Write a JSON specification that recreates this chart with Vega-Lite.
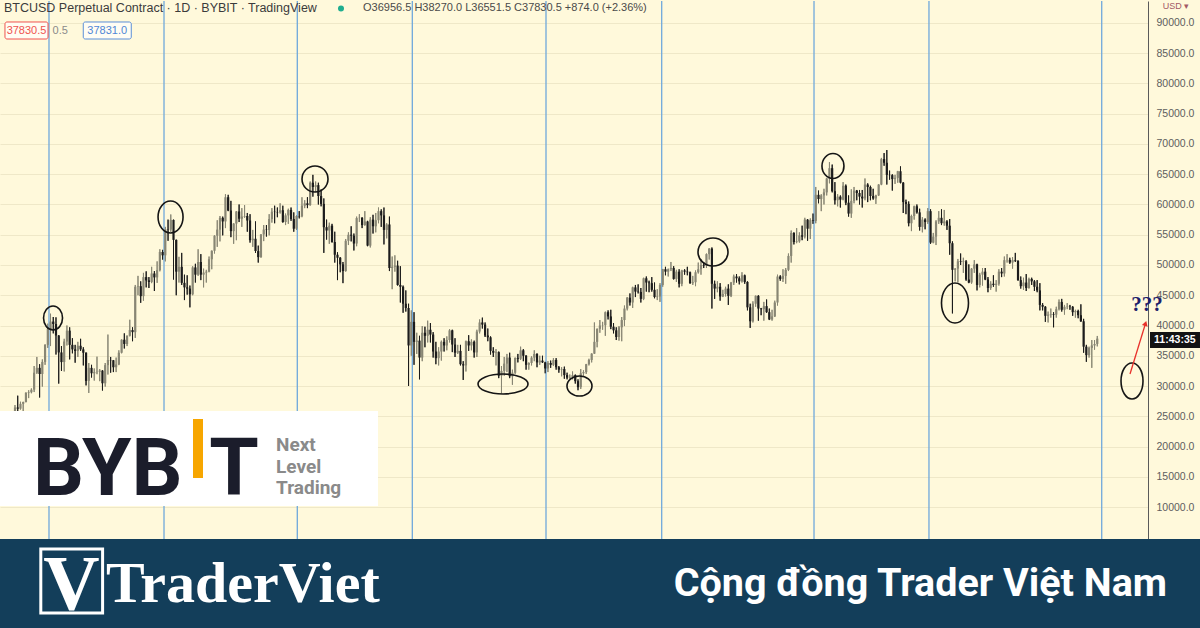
{
"$schema": "https://vega.github.io/schema/vega-lite/v6.json",
"background": "#fff9db",
"padding": 0,
"spacing": 0,
"bounds": "flush",
"config": {"view": {"stroke": null}, "font": "Liberation Sans"},
"datasets": {
"btc": [
{"d":"2020-12-22","o":22800,"h":23850,"l":22350,"c":23820},
{"d":"2020-12-23","o":23820,"h":24100,"l":22700,"c":23250},
{"d":"2020-12-24","o":23250,"h":23800,"l":22750,"c":23720},
{"d":"2020-12-25","o":23720,"h":24750,"l":23450,"c":24700},
{"d":"2020-12-26","o":24700,"h":26850,"l":24500,"c":26450},
{"d":"2020-12-27","o":26450,"h":28400,"l":25850,"c":26250},
{"d":"2020-12-28","o":26250,"h":27400,"l":26100,"c":27050},
{"d":"2020-12-29","o":27050,"h":27400,"l":25800,"c":27350},
{"d":"2020-12-30","o":27350,"h":28950,"l":27300,"c":28880},
{"d":"2020-12-31","o":28880,"h":29300,"l":28000,"c":28980},
{"d":"2021-01-01","o":28980,"h":29600,"l":28800,"c":29400},
{"d":"2021-01-02","o":29400,"h":33300,"l":29000,"c":32200},
{"d":"2021-01-03","o":32200,"h":34800,"l":32000,"c":33000},
{"d":"2021-01-04","o":33000,"h":33600,"l":28100,"c":31980},
{"d":"2021-01-05","o":31980,"h":34400,"l":29900,"c":33980},
{"d":"2021-01-06","o":33980,"h":36900,"l":33500,"c":36800},
{"d":"2021-01-07","o":36800,"h":40300,"l":36300,"c":39400},
{"d":"2021-01-08","o":39400,"h":41950,"l":36600,"c":40650},
{"d":"2021-01-09","o":40650,"h":41400,"l":38700,"c":40250},
{"d":"2021-01-10","o":40250,"h":41350,"l":35200,"c":38350},
{"d":"2021-01-11","o":38350,"h":38400,"l":30400,"c":35550},
{"d":"2021-01-12","o":35550,"h":36600,"l":32500,"c":33950},
{"d":"2021-01-13","o":33950,"h":37800,"l":32400,"c":37350},
{"d":"2021-01-14","o":37350,"h":40000,"l":36700,"c":39150},
{"d":"2021-01-15","o":39150,"h":39700,"l":34400,"c":36800},
{"d":"2021-01-16","o":36800,"h":37900,"l":35400,"c":36050},
{"d":"2021-01-17","o":36050,"h":36800,"l":33850,"c":35800},
{"d":"2021-01-18","o":35800,"h":37300,"l":34800,"c":36650},
{"d":"2021-01-19","o":36650,"h":37800,"l":35800,"c":36050},
{"d":"2021-01-20","o":36050,"h":36400,"l":33400,"c":35500},
{"d":"2021-01-21","o":35500,"h":35550,"l":30100,"c":30850},
{"d":"2021-01-22","o":30850,"h":33800,"l":28850,"c":33000},
{"d":"2021-01-23","o":33000,"h":33500,"l":31400,"c":32100},
{"d":"2021-01-24","o":32100,"h":32900,"l":30900,"c":32300},
{"d":"2021-01-25","o":32300,"h":34850,"l":31950,"c":32350},
{"d":"2021-01-26","o":32350,"h":32800,"l":30800,"c":32550},
{"d":"2021-01-27","o":32550,"h":32600,"l":29250,"c":30450},
{"d":"2021-01-28","o":30450,"h":33800,"l":29900,"c":33450},
{"d":"2021-01-29","o":33450,"h":38500,"l":31900,"c":34300},
{"d":"2021-01-30","o":34300,"h":34800,"l":32200,"c":34250},
{"d":"2021-01-31","o":34250,"h":34300,"l":32300,"c":33100},
{"d":"2021-02-01","o":33100,"h":34700,"l":32300,"c":33550},
{"d":"2021-02-02","o":33550,"h":35900,"l":33450,"c":35500},
{"d":"2021-02-03","o":35500,"h":37700,"l":35400,"c":37650},
{"d":"2021-02-04","o":37650,"h":38700,"l":36200,"c":36950},
{"d":"2021-02-05","o":36950,"h":38350,"l":36600,"c":38300},
{"d":"2021-02-06","o":38300,"h":40950,"l":38200,"c":39250},
{"d":"2021-02-07","o":39250,"h":39700,"l":37400,"c":38900},
{"d":"2021-02-08","o":38900,"h":46700,"l":37950,"c":46400},
{"d":"2021-02-09","o":46400,"h":48200,"l":45000,"c":46500},
{"d":"2021-02-10","o":46500,"h":47300,"l":43750,"c":44850},
{"d":"2021-02-11","o":44850,"h":48700,"l":44100,"c":48000},
{"d":"2021-02-12","o":48000,"h":48950,"l":46300,"c":47450},
{"d":"2021-02-13","o":47450,"h":48000,"l":46200,"c":47200},
{"d":"2021-02-14","o":47200,"h":49700,"l":47000,"c":48600},
{"d":"2021-02-15","o":48600,"h":49000,"l":45700,"c":47950},
{"d":"2021-02-16","o":47950,"h":50600,"l":47050,"c":49150},
{"d":"2021-02-17","o":49150,"h":52600,"l":48950,"c":52150},
{"d":"2021-02-18","o":52150,"h":52500,"l":50900,"c":51600},
{"d":"2021-02-19","o":51600,"h":56300,"l":50600,"c":55900},
{"d":"2021-02-20","o":55900,"h":57500,"l":54000,"c":55850},
{"d":"2021-02-21","o":55850,"h":58350,"l":55500,"c":57450},
{"d":"2021-02-22","o":57450,"h":57500,"l":47600,"c":54150},
{"d":"2021-02-23","o":54150,"h":54200,"l":45000,"c":48900},
{"d":"2021-02-24","o":48900,"h":51350,"l":47100,"c":49700},
{"d":"2021-02-25","o":49700,"h":52000,"l":46700,"c":47050},
{"d":"2021-02-26","o":47050,"h":48400,"l":44200,"c":46300},
{"d":"2021-02-27","o":46300,"h":48300,"l":45100,"c":46100},
{"d":"2021-02-28","o":46100,"h":46600,"l":43000,"c":45150},
{"d":"2021-03-01","o":45150,"h":49800,"l":45000,"c":49600},
{"d":"2021-03-02","o":49600,"h":50200,"l":47100,"c":48400},
{"d":"2021-03-03","o":48400,"h":52600,"l":48200,"c":50500},
{"d":"2021-03-04","o":50500,"h":51800,"l":47500,"c":48400},
{"d":"2021-03-05","o":48400,"h":49400,"l":46300,"c":48750},
{"d":"2021-03-06","o":48750,"h":49200,"l":47100,"c":48900},
{"d":"2021-03-07","o":48900,"h":51400,"l":48800,"c":50950},
{"d":"2021-03-08","o":50950,"h":52400,"l":49300,"c":52350},
{"d":"2021-03-09","o":52350,"h":54900,"l":51900,"c":54850},
{"d":"2021-03-10","o":54850,"h":57400,"l":53000,"c":55850},
{"d":"2021-03-11","o":55850,"h":58100,"l":53900,"c":57800},
{"d":"2021-03-12","o":57800,"h":58000,"l":54900,"c":57200},
{"d":"2021-03-13","o":57200,"h":61700,"l":56100,"c":61200},
{"d":"2021-03-14","o":61200,"h":61600,"l":58900,"c":59000},
{"d":"2021-03-15","o":59000,"h":60600,"l":54600,"c":55600},
{"d":"2021-03-16","o":55600,"h":56900,"l":53500,"c":56850},
{"d":"2021-03-17","o":56850,"h":58900,"l":54100,"c":58850},
{"d":"2021-03-18","o":58850,"h":60000,"l":57100,"c":57650},
{"d":"2021-03-19","o":57650,"h":59400,"l":56300,"c":58000},
{"d":"2021-03-20","o":58000,"h":59900,"l":57800,"c":58100},
{"d":"2021-03-21","o":58100,"h":58600,"l":55500,"c":57350},
{"d":"2021-03-22","o":57350,"h":58400,"l":53700,"c":54100},
{"d":"2021-03-23","o":54100,"h":55800,"l":53000,"c":54350},
{"d":"2021-03-24","o":54350,"h":57200,"l":52000,"c":52300},
{"d":"2021-03-25","o":52300,"h":53200,"l":50400,"c":51300},
{"d":"2021-03-26","o":51300,"h":55100,"l":51200,"c":55050},
{"d":"2021-03-27","o":55050,"h":56600,"l":53950,"c":55850},
{"d":"2021-03-28","o":55850,"h":56600,"l":54700,"c":55800},
{"d":"2021-03-29","o":55800,"h":58400,"l":54900,"c":57600},
{"d":"2021-03-30","o":57600,"h":59400,"l":57000,"c":58800},
{"d":"2021-03-31","o":58800,"h":59800,"l":56900,"c":58750},
{"d":"2021-04-01","o":58750,"h":59500,"l":57900,"c":58700},
{"d":"2021-04-02","o":58700,"h":60200,"l":58500,"c":59050},
{"d":"2021-04-03","o":59050,"h":59800,"l":57000,"c":57100},
{"d":"2021-04-04","o":57100,"h":58500,"l":56600,"c":58200},
{"d":"2021-04-05","o":58200,"h":59300,"l":56800,"c":59100},
{"d":"2021-04-06","o":59100,"h":59500,"l":57300,"c":57600},
{"d":"2021-04-07","o":57600,"h":58700,"l":55500,"c":56000},
{"d":"2021-04-08","o":56000,"h":58200,"l":55800,"c":58100},
{"d":"2021-04-09","o":58100,"h":58900,"l":57700,"c":58050},
{"d":"2021-04-10","o":58050,"h":61200,"l":57900,"c":59800},
{"d":"2021-04-11","o":59800,"h":60700,"l":59400,"c":60200},
{"d":"2021-04-12","o":60200,"h":61200,"l":59400,"c":59900},
{"d":"2021-04-13","o":59900,"h":63800,"l":59800,"c":63600},
{"d":"2021-04-14","o":63600,"h":64900,"l":61300,"c":62900},
{"d":"2021-04-15","o":62900,"h":63800,"l":62100,"c":63200},
{"d":"2021-04-16","o":63200,"h":63600,"l":60000,"c":61400},
{"d":"2021-04-17","o":61400,"h":62500,"l":59700,"c":60100},
{"d":"2021-04-18","o":60100,"h":61000,"l":52000,"c":56250},
{"d":"2021-04-19","o":56250,"h":57500,"l":54200,"c":55700},
{"d":"2021-04-20","o":55700,"h":57000,"l":53500,"c":56500},
{"d":"2021-04-21","o":56500,"h":56800,"l":53700,"c":53800},
{"d":"2021-04-22","o":53800,"h":55500,"l":50400,"c":51700},
{"d":"2021-04-23","o":51700,"h":52100,"l":47500,"c":51200},
{"d":"2021-04-24","o":51200,"h":51300,"l":48800,"c":50100},
{"d":"2021-04-25","o":50100,"h":50500,"l":47000,"c":49000},
{"d":"2021-04-26","o":49000,"h":54300,"l":48900,"c":54000},
{"d":"2021-04-27","o":54000,"h":55400,"l":53300,"c":55000},
{"d":"2021-04-28","o":55000,"h":56400,"l":53900,"c":54850},
{"d":"2021-04-29","o":54850,"h":55200,"l":52400,"c":53550},
{"d":"2021-04-30","o":53550,"h":58000,"l":53100,"c":57750},
{"d":"2021-05-01","o":57750,"h":58400,"l":57100,"c":57800},
{"d":"2021-05-02","o":57800,"h":57900,"l":56100,"c":56600},
{"d":"2021-05-03","o":56600,"h":58900,"l":56500,"c":57200},
{"d":"2021-05-04","o":57200,"h":57300,"l":53100,"c":53200},
{"d":"2021-05-05","o":53200,"h":57900,"l":52900,"c":57500},
{"d":"2021-05-06","o":57500,"h":58300,"l":55200,"c":56400},
{"d":"2021-05-07","o":56400,"h":58600,"l":55400,"c":57400},
{"d":"2021-05-08","o":57400,"h":59500,"l":56900,"c":58900},
{"d":"2021-05-09","o":58900,"h":59200,"l":56300,"c":58200},
{"d":"2021-05-10","o":58200,"h":59500,"l":53400,"c":55800},
{"d":"2021-05-11","o":55800,"h":56900,"l":54400,"c":56700},
{"d":"2021-05-12","o":56700,"h":58000,"l":49000,"c":49500},
{"d":"2021-05-13","o":49500,"h":51400,"l":46000,"c":49700},
{"d":"2021-05-14","o":49700,"h":51600,"l":48900,"c":49900},
{"d":"2021-05-15","o":49900,"h":50700,"l":46600,"c":46700},
{"d":"2021-05-16","o":46700,"h":49800,"l":43800,"c":46400},
{"d":"2021-05-17","o":46400,"h":46600,"l":42100,"c":43600},
{"d":"2021-05-18","o":43600,"h":45800,"l":42300,"c":42900},
{"d":"2021-05-19","o":42900,"h":43600,"l":30000,"c":36700},
{"d":"2021-05-20","o":36700,"h":42500,"l":35000,"c":40600},
{"d":"2021-05-21","o":40600,"h":42200,"l":33500,"c":37300},
{"d":"2021-05-22","o":37300,"h":38800,"l":35300,"c":37500},
{"d":"2021-05-23","o":37500,"h":38300,"l":31100,"c":34700},
{"d":"2021-05-24","o":34700,"h":39900,"l":34100,"c":38800},
{"d":"2021-05-25","o":38800,"h":39800,"l":36400,"c":38300},
{"d":"2021-05-26","o":38300,"h":40800,"l":37200,"c":39300},
{"d":"2021-05-27","o":39300,"h":40400,"l":37200,"c":38500},
{"d":"2021-05-28","o":38500,"h":38900,"l":34700,"c":35700},
{"d":"2021-05-29","o":35700,"h":37300,"l":33600,"c":34600},
{"d":"2021-05-30","o":34600,"h":36400,"l":33400,"c":35700},
{"d":"2021-05-31","o":35700,"h":37500,"l":34200,"c":37300},
{"d":"2021-06-01","o":37300,"h":37900,"l":35700,"c":36700},
{"d":"2021-06-02","o":36700,"h":38200,"l":35900,"c":37600},
{"d":"2021-06-03","o":37600,"h":39400,"l":37200,"c":39200},
{"d":"2021-06-04","o":39200,"h":39300,"l":35600,"c":36850},
{"d":"2021-06-05","o":36850,"h":37900,"l":34800,"c":35500},
{"d":"2021-06-06","o":35500,"h":36800,"l":35300,"c":35800},
{"d":"2021-06-07","o":35800,"h":36800,"l":33400,"c":33600},
{"d":"2021-06-08","o":33600,"h":34100,"l":31000,"c":33400},
{"d":"2021-06-09","o":33400,"h":37500,"l":32400,"c":37400},
{"d":"2021-06-10","o":37400,"h":38400,"l":35800,"c":36700},
{"d":"2021-06-11","o":36700,"h":37700,"l":35900,"c":37300},
{"d":"2021-06-12","o":37300,"h":37500,"l":34700,"c":35550},
{"d":"2021-06-13","o":35550,"h":39300,"l":34800,"c":39000},
{"d":"2021-06-14","o":39000,"h":41000,"l":38700,"c":40500},
{"d":"2021-06-15","o":40500,"h":41300,"l":39500,"c":40150},
{"d":"2021-06-16","o":40150,"h":40500,"l":38100,"c":38350},
{"d":"2021-06-17","o":38350,"h":39500,"l":37400,"c":38050},
{"d":"2021-06-18","o":38050,"h":38200,"l":35200,"c":35800},
{"d":"2021-06-19","o":35800,"h":36400,"l":34800,"c":35500},
{"d":"2021-06-20","o":35500,"h":36100,"l":33400,"c":35600},
{"d":"2021-06-21","o":35600,"h":35700,"l":31300,"c":31700},
{"d":"2021-06-22","o":31700,"h":33300,"l":28800,"c":32500},
{"d":"2021-06-23","o":32500,"h":34800,"l":31700,"c":33700},
{"d":"2021-06-24","o":33700,"h":35300,"l":32300,"c":34700},
{"d":"2021-06-25","o":34700,"h":35500,"l":31300,"c":31600},
{"d":"2021-06-26","o":31600,"h":32700,"l":30200,"c":32200},
{"d":"2021-06-27","o":32200,"h":34700,"l":32000,"c":34650},
{"d":"2021-06-28","o":34650,"h":35300,"l":33900,"c":34500},
{"d":"2021-06-29","o":34500,"h":36500,"l":34300,"c":35900},
{"d":"2021-06-30","o":35900,"h":36100,"l":34100,"c":35000},
{"d":"2021-07-01","o":35000,"h":35100,"l":32700,"c":33500},
{"d":"2021-07-02","o":33500,"h":33900,"l":32700,"c":33800},
{"d":"2021-07-03","o":33800,"h":34900,"l":33400,"c":34700},
{"d":"2021-07-04","o":34700,"h":35900,"l":34100,"c":35300},
{"d":"2021-07-05","o":35300,"h":35400,"l":33100,"c":33900},
{"d":"2021-07-06","o":33900,"h":35000,"l":33500,"c":34200},
{"d":"2021-07-07","o":34200,"h":35000,"l":33800,"c":33900},
{"d":"2021-07-08","o":33900,"h":34000,"l":32100,"c":32900},
{"d":"2021-07-09","o":32900,"h":34100,"l":32300,"c":33800},
{"d":"2021-07-10","o":33800,"h":34200,"l":33000,"c":33500},
{"d":"2021-07-11","o":33500,"h":34600,"l":33300,"c":34300},
{"d":"2021-07-12","o":34300,"h":34600,"l":32700,"c":33100},
{"d":"2021-07-13","o":33100,"h":33300,"l":32200,"c":32700},
{"d":"2021-07-14","o":32700,"h":33100,"l":31600,"c":32800},
{"d":"2021-07-15","o":32800,"h":33200,"l":31200,"c":31800},
{"d":"2021-07-16","o":31800,"h":32200,"l":31100,"c":31400},
{"d":"2021-07-17","o":31400,"h":31900,"l":31200,"c":31500},
{"d":"2021-07-18","o":31500,"h":32400,"l":31100,"c":31800},
{"d":"2021-07-19","o":31800,"h":31900,"l":30400,"c":30800},
{"d":"2021-07-20","o":30800,"h":31100,"l":29300,"c":29800},
{"d":"2021-07-21","o":29800,"h":32800,"l":29500,"c":32100},
{"d":"2021-07-22","o":32100,"h":32600,"l":31700,"c":32300},
{"d":"2021-07-23","o":32300,"h":33650,"l":32000,"c":33600},
{"d":"2021-07-24","o":33600,"h":34500,"l":33400,"c":34300},
{"d":"2021-07-25","o":34300,"h":35400,"l":33900,"c":35350},
{"d":"2021-07-26","o":35350,"h":40500,"l":35300,"c":37300},
{"d":"2021-07-27","o":37300,"h":39500,"l":36400,"c":39450},
{"d":"2021-07-28","o":39450,"h":40900,"l":38800,"c":40000},
{"d":"2021-07-29","o":40000,"h":40600,"l":39300,"c":40050},
{"d":"2021-07-30","o":40050,"h":42300,"l":38300,"c":42200},
{"d":"2021-07-31","o":42200,"h":42500,"l":41000,"c":41500},
{"d":"2021-08-01","o":41500,"h":42600,"l":39400,"c":39800},
{"d":"2021-08-02","o":39800,"h":40400,"l":38700,"c":39200},
{"d":"2021-08-03","o":39200,"h":39700,"l":37600,"c":38100},
{"d":"2021-08-04","o":38100,"h":39900,"l":37500,"c":39700},
{"d":"2021-08-05","o":39700,"h":41400,"l":37400,"c":40900},
{"d":"2021-08-06","o":40900,"h":43300,"l":39900,"c":42800},
{"d":"2021-08-07","o":42800,"h":44700,"l":42500,"c":44600},
{"d":"2021-08-08","o":44600,"h":45300,"l":43300,"c":43800},
{"d":"2021-08-09","o":43800,"h":46400,"l":42900,"c":46300},
{"d":"2021-08-10","o":46300,"h":46700,"l":44700,"c":45600},
{"d":"2021-08-11","o":45600,"h":46800,"l":45300,"c":45550},
{"d":"2021-08-12","o":45550,"h":46200,"l":43800,"c":44400},
{"d":"2021-08-13","o":44400,"h":47900,"l":44200,"c":47800},
{"d":"2021-08-14","o":47800,"h":48100,"l":45600,"c":47100},
{"d":"2021-08-15","o":47100,"h":47400,"l":45500,"c":47000},
{"d":"2021-08-16","o":47000,"h":48000,"l":45600,"c":45900},
{"d":"2021-08-17","o":45900,"h":47100,"l":44500,"c":44700},
{"d":"2021-08-18","o":44700,"h":46000,"l":44200,"c":44800},
{"d":"2021-08-19","o":44800,"h":47000,"l":43900,"c":46700},
{"d":"2021-08-20","o":46700,"h":49350,"l":46400,"c":49300},
{"d":"2021-08-21","o":49300,"h":49700,"l":48300,"c":48900},
{"d":"2021-08-22","o":48900,"h":49400,"l":48100,"c":49300},
{"d":"2021-08-23","o":49300,"h":50500,"l":49000,"c":49500},
{"d":"2021-08-24","o":49500,"h":49800,"l":47600,"c":47700},
{"d":"2021-08-25","o":47700,"h":49200,"l":47200,"c":48900},
{"d":"2021-08-26","o":48900,"h":49300,"l":46300,"c":46900},
{"d":"2021-08-27","o":46900,"h":49200,"l":46500,"c":49100},
{"d":"2021-08-28","o":49100,"h":49300,"l":48400,"c":48900},
{"d":"2021-08-29","o":48900,"h":49700,"l":48300,"c":48800},
{"d":"2021-08-30","o":48800,"h":48900,"l":46900,"c":47000},
{"d":"2021-08-31","o":47000,"h":48200,"l":46700,"c":47150},
{"d":"2021-09-01","o":47150,"h":49100,"l":46500,"c":48800},
{"d":"2021-09-02","o":48800,"h":50400,"l":48600,"c":49300},
{"d":"2021-09-03","o":49300,"h":51000,"l":48400,"c":50000},
{"d":"2021-09-04","o":50000,"h":50500,"l":49500,"c":49900},
{"d":"2021-09-05","o":49900,"h":51900,"l":49500,"c":51800},
{"d":"2021-09-06","o":51800,"h":52800,"l":50900,"c":52700},
{"d":"2021-09-07","o":52700,"h":52900,"l":42800,"c":46900},
{"d":"2021-09-08","o":46900,"h":47400,"l":44400,"c":46100},
{"d":"2021-09-09","o":46100,"h":47300,"l":45500,"c":46400},
{"d":"2021-09-10","o":46400,"h":47000,"l":44100,"c":44800},
{"d":"2021-09-11","o":44800,"h":45900,"l":44700,"c":45200},
{"d":"2021-09-12","o":45200,"h":46400,"l":44800,"c":46100},
{"d":"2021-09-13","o":46100,"h":46800,"l":43400,"c":44900},
{"d":"2021-09-14","o":44900,"h":47200,"l":44700,"c":47100},
{"d":"2021-09-15","o":47100,"h":48400,"l":46700,"c":48100},
{"d":"2021-09-16","o":48100,"h":48500,"l":47100,"c":47800},
{"d":"2021-09-17","o":47800,"h":48100,"l":46800,"c":47300},
{"d":"2021-09-18","o":47300,"h":48800,"l":47100,"c":48300},
{"d":"2021-09-19","o":48300,"h":48400,"l":46900,"c":47200},
{"d":"2021-09-20","o":47200,"h":47300,"l":42500,"c":43000},
{"d":"2021-09-21","o":43000,"h":43600,"l":39600,"c":40700},
{"d":"2021-09-22","o":40700,"h":44000,"l":40500,"c":43600},
{"d":"2021-09-23","o":43600,"h":44950,"l":43100,"c":44900},
{"d":"2021-09-24","o":44900,"h":45000,"l":40800,"c":42800},
{"d":"2021-09-25","o":42800,"h":42900,"l":41700,"c":42700},
{"d":"2021-09-26","o":42700,"h":43900,"l":40800,"c":43200},
{"d":"2021-09-27","o":43200,"h":44300,"l":42100,"c":42200},
{"d":"2021-09-28","o":42200,"h":42800,"l":40900,"c":41000},
{"d":"2021-09-29","o":41000,"h":42600,"l":40800,"c":41500},
{"d":"2021-09-30","o":41500,"h":44100,"l":41400,"c":43800},
{"d":"2021-10-01","o":43800,"h":48400,"l":43300,"c":48100},
{"d":"2021-10-02","o":48100,"h":48300,"l":47400,"c":47700},
{"d":"2021-10-03","o":47700,"h":49300,"l":47200,"c":48200},
{"d":"2021-10-04","o":48200,"h":49500,"l":46900,"c":49200},
{"d":"2021-10-05","o":49200,"h":51900,"l":49000,"c":51500},
{"d":"2021-10-06","o":51500,"h":55700,"l":50400,"c":55300},
{"d":"2021-10-07","o":55300,"h":55400,"l":53400,"c":53800},
{"d":"2021-10-08","o":53800,"h":56100,"l":53600,"c":53900},
{"d":"2021-10-09","o":53900,"h":55400,"l":53700,"c":54900},
{"d":"2021-10-10","o":54900,"h":56500,"l":54100,"c":54700},
{"d":"2021-10-11","o":54700,"h":57800,"l":54400,"c":57500},
{"d":"2021-10-12","o":57500,"h":57600,"l":54000,"c":56000},
{"d":"2021-10-13","o":56000,"h":57700,"l":54300,"c":57400},
{"d":"2021-10-14","o":57400,"h":58500,"l":56800,"c":57300},
{"d":"2021-10-15","o":57300,"h":62900,"l":56900,"c":61600},
{"d":"2021-10-16","o":61600,"h":62300,"l":60200,"c":60900},
{"d":"2021-10-17","o":60900,"h":61700,"l":58900,"c":61500},
{"d":"2021-10-18","o":61500,"h":62600,"l":60000,"c":62000},
{"d":"2021-10-19","o":62000,"h":64400,"l":61500,"c":64300},
{"d":"2021-10-20","o":64300,"h":67000,"l":63500,"c":66000},
{"d":"2021-10-21","o":66000,"h":66600,"l":62000,"c":62200},
{"d":"2021-10-22","o":62200,"h":63700,"l":60000,"c":60700},
{"d":"2021-10-23","o":60700,"h":61700,"l":59700,"c":61300},
{"d":"2021-10-24","o":61300,"h":61500,"l":59500,"c":60800},
{"d":"2021-10-25","o":60800,"h":63700,"l":60700,"c":63100},
{"d":"2021-10-26","o":63100,"h":63300,"l":59900,"c":60300},
{"d":"2021-10-27","o":60300,"h":61500,"l":58000,"c":58500},
{"d":"2021-10-28","o":58500,"h":62500,"l":57800,"c":60600},
{"d":"2021-10-29","o":60600,"h":62900,"l":60200,"c":62300},
{"d":"2021-10-30","o":62300,"h":62400,"l":60700,"c":61900},
{"d":"2021-10-31","o":61900,"h":62400,"l":60000,"c":61300},
{"d":"2021-11-01","o":61300,"h":62400,"l":59500,"c":61000},
{"d":"2021-11-02","o":61000,"h":64300,"l":60700,"c":63300},
{"d":"2021-11-03","o":63300,"h":63500,"l":60400,"c":62900},
{"d":"2021-11-04","o":62900,"h":63100,"l":60700,"c":61400},
{"d":"2021-11-05","o":61400,"h":62600,"l":60800,"c":61000},
{"d":"2021-11-06","o":61000,"h":61600,"l":60100,"c":61500},
{"d":"2021-11-07","o":61500,"h":63350,"l":61400,"c":63300},
{"d":"2021-11-08","o":63300,"h":67700,"l":63200,"c":67500},
{"d":"2021-11-09","o":67500,"h":68500,"l":66400,"c":66900},
{"d":"2021-11-10","o":66900,"h":69000,"l":63300,"c":64900},
{"d":"2021-11-11","o":64900,"h":65600,"l":64100,"c":64850},
{"d":"2021-11-12","o":64850,"h":65000,"l":62300,"c":64200},
{"d":"2021-11-13","o":64200,"h":64900,"l":63400,"c":64400},
{"d":"2021-11-14","o":64400,"h":65550,"l":63600,"c":65500},
{"d":"2021-11-15","o":65500,"h":66300,"l":63500,"c":63600},
{"d":"2021-11-16","o":63600,"h":63700,"l":58600,"c":60400},
{"d":"2021-11-17","o":60400,"h":60800,"l":58400,"c":60100},
{"d":"2021-11-18","o":60100,"h":60500,"l":56400,"c":56900},
{"d":"2021-11-19","o":56900,"h":58300,"l":55600,"c":58100},
{"d":"2021-11-20","o":58100,"h":59800,"l":57500,"c":59700},
{"d":"2021-11-21","o":59700,"h":60000,"l":58500,"c":58700},
{"d":"2021-11-22","o":58700,"h":59300,"l":55700,"c":56300},
{"d":"2021-11-23","o":56300,"h":57900,"l":55400,"c":57500},
{"d":"2021-11-24","o":57500,"h":57700,"l":55900,"c":57100},
{"d":"2021-11-25","o":57100,"h":59400,"l":56800,"c":58900},
{"d":"2021-11-26","o":58900,"h":59200,"l":53500,"c":53700},
{"d":"2021-11-27","o":53700,"h":55300,"l":53600,"c":54700},
{"d":"2021-11-28","o":54700,"h":57400,"l":53300,"c":57200},
{"d":"2021-11-29","o":57200,"h":58900,"l":56800,"c":57800},
{"d":"2021-11-30","o":57800,"h":59200,"l":56600,"c":56900},
{"d":"2021-12-01","o":56900,"h":59100,"l":56500,"c":57200},
{"d":"2021-12-02","o":57200,"h":57400,"l":55800,"c":56500},
{"d":"2021-12-03","o":56500,"h":57600,"l":51700,"c":53600},
{"d":"2021-12-04","o":53600,"h":53900,"l":42000,"c":49200},
{"d":"2021-12-05","o":49200,"h":49500,"l":47300,"c":49400},
{"d":"2021-12-06","o":49400,"h":51000,"l":47100,"c":50600},
{"d":"2021-12-07","o":50600,"h":51900,"l":50000,"c":50500},
{"d":"2021-12-08","o":50500,"h":51200,"l":48700,"c":50600},
{"d":"2021-12-09","o":50600,"h":50800,"l":47400,"c":47600},
{"d":"2021-12-10","o":47600,"h":50100,"l":47000,"c":47100},
{"d":"2021-12-11","o":47100,"h":49500,"l":46900,"c":49400},
{"d":"2021-12-12","o":49400,"h":50800,"l":48700,"c":50100},
{"d":"2021-12-13","o":50100,"h":50200,"l":45800,"c":46700},
{"d":"2021-12-14","o":46700,"h":48700,"l":46300,"c":48400},
{"d":"2021-12-15","o":48400,"h":49500,"l":46600,"c":48900},
{"d":"2021-12-16","o":48900,"h":49500,"l":47500,"c":47600},
{"d":"2021-12-17","o":47600,"h":48000,"l":45500,"c":46200},
{"d":"2021-12-18","o":46200,"h":47300,"l":45900,"c":46900},
{"d":"2021-12-19","o":46900,"h":48300,"l":46400,"c":46700},
{"d":"2021-12-20","o":46700,"h":47500,"l":45600,"c":46900},
{"d":"2021-12-21","o":46900,"h":49300,"l":46600,"c":48900},
{"d":"2021-12-22","o":48900,"h":49500,"l":48000,"c":48600},
{"d":"2021-12-23","o":48600,"h":51400,"l":48100,"c":50800},
{"d":"2021-12-24","o":50800,"h":51800,"l":50400,"c":50850},
{"d":"2021-12-25","o":50850,"h":51200,"l":50200,"c":50400},
{"d":"2021-12-26","o":50400,"h":51300,"l":49400,"c":50800},
{"d":"2021-12-27","o":50800,"h":52000,"l":50500,"c":50700},
{"d":"2021-12-28","o":50700,"h":50750,"l":47400,"c":47500},
{"d":"2021-12-29","o":47500,"h":48100,"l":46100,"c":46500},
{"d":"2021-12-30","o":46500,"h":47900,"l":45900,"c":47100},
{"d":"2021-12-31","o":47100,"h":48500,"l":45700,"c":46200},
{"d":"2022-01-01","o":46200,"h":47900,"l":46100,"c":47700},
{"d":"2022-01-02","o":47700,"h":47900,"l":46700,"c":47300},
{"d":"2022-01-03","o":47300,"h":47500,"l":45700,"c":46400},
{"d":"2022-01-04","o":46400,"h":47500,"l":45500,"c":45800},
{"d":"2022-01-05","o":45800,"h":47000,"l":42500,"c":43400},
{"d":"2022-01-06","o":43400,"h":43700,"l":42500,"c":43100},
{"d":"2022-01-07","o":43100,"h":43200,"l":40600,"c":41600},
{"d":"2022-01-08","o":41600,"h":42300,"l":40500,"c":41800},
{"d":"2022-01-09","o":41800,"h":42800,"l":41300,"c":41900},
{"d":"2022-01-10","o":41900,"h":42200,"l":39700,"c":41800},
{"d":"2022-01-11","o":41800,"h":43100,"l":41300,"c":42700},
{"d":"2022-01-12","o":42700,"h":44300,"l":42500,"c":43900},
{"d":"2022-01-13","o":43900,"h":44400,"l":42300,"c":42600},
{"d":"2022-01-14","o":42600,"h":43400,"l":41800,"c":43100},
{"d":"2022-01-15","o":43100,"h":43700,"l":42700,"c":43150},
{"d":"2022-01-16","o":43150,"h":43400,"l":42600,"c":43100},
{"d":"2022-01-17","o":43100,"h":43200,"l":41600,"c":42200},
{"d":"2022-01-18","o":42200,"h":42600,"l":41300,"c":42400},
{"d":"2022-01-19","o":42400,"h":42600,"l":41200,"c":41700},
{"d":"2022-01-20","o":41700,"h":43500,"l":40600,"c":40700},
{"d":"2022-01-21","o":40700,"h":41100,"l":35500,"c":36500},
{"d":"2022-01-22","o":36500,"h":36800,"l":34000,"c":35100},
{"d":"2022-01-23","o":35100,"h":36500,"l":34700,"c":36300},
{"d":"2022-01-24","o":36300,"h":37600,"l":33000,"c":36700},
{"d":"2022-01-25","o":36700,"h":37600,"l":36000,"c":36950},
{"d":"2022-01-26","o":36956.5,"h":38270,"l":36551.5,"c":37830.5}
],
"vlines": [
{"d":"2021-01-07T10:30:00Z"},{"d":"2021-02-18T12:30:00Z"},{"d":"2021-04-08T07:00:00Z"},
{"d":"2021-05-20T09:00:00Z"},{"d":"2021-07-08T07:00:00Z"},{"d":"2021-08-19T15:00:00Z"},
{"d":"2021-10-14T08:30:00Z"},{"d":"2021-11-25T10:00:00Z"},{"d":"2022-01-27T15:00:00Z"}
],
"marks": [
{"k":"a1","d":"2021-01-08T22:00:00Z","p":41240},
{"k":"a2","d":"2021-02-20T22:00:00Z","p":57934},
{"k":"a3","d":"2021-04-14T18:30:00Z","p":64215},
{"k":"a4","d":"2021-06-22T13:30:00Z","p":30331},
{"k":"a5","d":"2021-07-20T13:00:00Z","p":30000},
{"k":"a6","d":"2021-09-07T09:30:00Z","p":52149},
{"k":"a7","d":"2021-10-21T07:00:00Z","p":66364},
{"k":"a8","d":"2021-12-04T22:30:00Z","p":43719},
{"k":"a9","d":"2022-02-07T17:00:00Z","p":30826}
]
},
"vconcat": [
{
"width": 1148,
"height": 538,
"resolve": {"axis": {"y": "independent"}},
"layer": [
{
"data": {"name": "btc"},
"mark": {"type": "rule", "strokeWidth": 1},
"encoding": {
"x": {"field": "d", "type": "temporal", "axis": null,
"scale": {"type": "utc", "nice": false, "padding": 0, "domain": [
{"year": 2020, "month": 12, "date": 20, "hours": 12, "minutes": 17, "utc": true},
{"year": 2022, "month": 2, "date": 13, "hours": 13, "minutes": 26, "utc": true}]}},
"y": {"field": "l", "type": "quantitative",
"scale": {"domain": [4711, 93636], "nice": false, "zero": false, "padding": 0},
"axis": {"orient": "right", "title": null, "format": ".1f",
"values": [10000,15000,20000,25000,30000,35000,40000,45000,50000,55000,60000,65000,70000,75000,80000,85000,90000],
"labelOverlap": false, "labelBound": false,
"ticks": false, "labelPadding": 8, "labelAlign": "left", "labelFont": "Liberation Sans", "labelFontSize": 10.5,
"labelColor": "#5e5e5e", "domainColor": "#5a5a5a", "domainWidth": 1, "grid": true, "gridColor": "#efe8c8", "gridWidth": 1}},
"y2": {"field": "h"},
"color": {"condition": {"test": "datum.c >= datum.o", "value": "#888674"}, "value": "#1c1c1c"}
}
},
{
"data": {"name": "vlines"},
"mark": {"type": "rule", "color": "#6fa8dc", "strokeWidth": 1.3},
"encoding": {
"x": {"field": "d", "type": "temporal", "axis": null}
}
},
{
"data": {"name": "btc"},
"mark": {"type": "rule", "strokeWidth": 1},
"encoding": {
"x": {"field": "d", "type": "temporal", "axis": null},
"y": {"field": "l", "type": "quantitative", "axis": null},
"y2": {"field": "h"},
"color": {"condition": {"test": "datum.c >= datum.o", "value": "#888674"}, "value": "#1c1c1c"}
}
},
{
"data": {"name": "btc"},
"mark": {"type": "bar", "size": 2.2},
"encoding": {
"x": {"field": "d", "type": "temporal", "axis": null},
"y": {"field": "o", "type": "quantitative", "axis": null},
"y2": {"field": "c"},
"color": {"condition": {"test": "datum.c >= datum.o", "value": "#888674"}, "value": "#1c1c1c"}
}
},
{
"data": {"name": "marks"},
"mark": {"type": "point", "filled": false, "size": 4, "strokeWidth": 1.6, "color": "#151515", "opacity": 1},
"encoding": {
"x": {"field": "d", "type": "temporal", "axis": null},
"y": {"field": "p", "type": "quantitative", "axis": null},
"shape": {"field": "k", "type": "nominal", "legend": null,
"scale": {"domain": ["a1","a2","a3","a4","a5","a6","a7","a8","a9"],
"range": [
"M -9.5 0 A 9.5 12 0 1 0 9.5 0 A 9.5 12 0 1 0 -9.5 0 Z",
"M -12.5 0 A 12.5 16 0 1 0 12.5 0 A 12.5 16 0 1 0 -12.5 0 Z",
"M -13 0 A 13 13 0 1 0 13 0 A 13 13 0 1 0 -13 0 Z",
"M -25 0 A 25 10 0 1 0 25 0 A 25 10 0 1 0 -25 0 Z",
"M -12.5 0 A 12.5 10 0 1 0 12.5 0 A 12.5 10 0 1 0 -12.5 0 Z",
"M -15 0 A 15 14 0 1 0 15 0 A 15 14 0 1 0 -15 0 Z",
"M -11 0 A 11 12.5 0 1 0 11 0 A 11 12.5 0 1 0 -11 0 Z",
"M -13.5 0 A 13.5 20 0 1 0 13.5 0 A 13.5 20 0 1 0 -13.5 0 Z",
"M -11 0 A 11 18 0 1 0 11 0 A 11 18 0 1 0 -11 0 Z"]}}
}
},
{
"data": {"values": [{"d": "2022-02-06T23:30:00Z", "p": 31983, "d2": "2022-02-12T15:30:00Z", "p2": 40331}]},
"mark": {"type": "rule", "color": "#e8312b", "strokeWidth": 1.3},
"encoding": {
"x": {"field": "d", "type": "temporal", "axis": null},
"x2": {"field": "d2"},
"y": {"field": "p", "type": "quantitative", "axis": null},
"y2": {"field": "p2"}
}
},
{
"data": {"values": [{"d": "2022-02-12T15:30:00Z", "p": 40331}]},
"mark": {"type": "point", "shape": "triangle-up", "filled": true, "size": 36, "angle": 17, "color": "#e8312b", "opacity": 1},
"encoding": {
"x": {"field": "d", "type": "temporal", "axis": null},
"y": {"field": "p", "type": "quantitative", "axis": null}
}
},
{
"data": {"values": [{"d": "2022-02-13T05:00:00Z", "p": 43388, "t": "???"}]},
"mark": {"type": "text", "font": "Liberation Serif", "fontWeight": "bold", "fontSize": 21, "color": "#1f1f6b", "align": "center", "baseline": "middle"},
"encoding": {
"x": {"field": "d", "type": "temporal", "axis": null},
"y": {"field": "p", "type": "quantitative", "axis": null},
"text": {"field": "t"}
}
},
{
"data": {"values": [{"d": "2020-12-20T12:17:00Z", "d2": "2021-05-07T19:40:00Z", "p": 25868, "p2": 10165}]},
"mark": {"type": "rect", "color": "#ffffff", "opacity": 1},
"encoding": {
"x": {"field": "d", "type": "temporal", "axis": null},
"x2": {"field": "d2"},
"y": {"field": "p", "type": "quantitative", "axis": null},
"y2": {"field": "p2"}
}
},
{
"data": {"values": [{"d": "2021-03-01T03:00:00Z", "d2": "2021-03-04T19:00:00Z", "p": 24545, "p2": 14793}]},
"mark": {"type": "rect", "color": "#f7a600", "opacity": 1},
"encoding": {
"x": {"field": "d", "type": "temporal", "axis": null},
"x2": {"field": "d2"},
"y": {"field": "p", "type": "quantitative", "axis": null},
"y2": {"field": "p2"}
}
},
{
"data": {"values": [{"d": "2021-01-01T14:00:00Z", "p": 11983, "t": "BYB"}]},
"mark": {"type": "text", "font": "Roboto", "fontWeight": "bold", "fontSize": 80, "color": "#1b1d2b", "align": "left", "baseline": "alphabetic"},
"encoding": {
"x": {"field": "d", "type": "temporal", "axis": null},
"y": {"field": "p", "type": "quantitative", "axis": null},
"text": {"field": "t"}
}
},
{
"data": {"values": [{"d": "2021-03-16T03:00:00Z", "p": 11983, "t": "T"}]},
"mark": {"type": "text", "font": "Roboto", "fontWeight": "bold", "fontSize": 80, "color": "#1b1d2b", "align": "center", "baseline": "alphabetic"},
"encoding": {
"x": {"field": "d", "type": "temporal", "axis": null},
"y": {"field": "p", "type": "quantitative", "axis": null},
"text": {"field": "t"}
}
},
{
"data": {"values": [
{"d": "2021-03-31T12:00:00Z", "p": 19256, "t": "Next"},
{"d": "2021-03-31T12:00:00Z", "p": 15620, "t": "Level"},
{"d": "2021-03-31T12:00:00Z", "p": 12149, "t": "Trading"}]},
"mark": {"type": "text", "font": "Roboto", "fontWeight": "bold", "fontSize": 19, "color": "#8a8a8a", "align": "left", "baseline": "alphabetic"},
"encoding": {
"x": {"field": "d", "type": "temporal", "axis": null},
"y": {"field": "p", "type": "quantitative", "axis": null},
"text": {"field": "t"}
}
},
{
"data": {"values": [{"d": "2020-12-21T23:30:00Z", "p": 92400, "t": "BTCUSD Perpetual Contract · 1D · BYBIT · TradingView"}]},
"mark": {"type": "text", "font": "Liberation Sans", "fontSize": 12.5, "color": "#3b3b3b", "align": "left", "baseline": "middle"},
"encoding": {
"x": {"field": "d", "type": "temporal", "axis": null},
"y": {"field": "p", "type": "quantitative", "axis": null},
"text": {"field": "t"}
}
},
{
"data": {"values": [{"d": "2021-04-24T06:45:00Z", "p": 92400}]},
"mark": {"type": "point", "shape": "circle", "filled": true, "size": 36, "color": "#1fae8f", "opacity": 1},
"encoding": {
"x": {"field": "d", "type": "temporal", "axis": null},
"y": {"field": "p", "type": "quantitative", "axis": null}
}
},
{
"data": {"values": [{"d": "2021-05-02T08:00:00Z", "p": 92400, "t": "O36956.5 H38270.0 L36551.5 C37830.5 +874.0 (+2.36%)"}]},
"mark": {"type": "text", "font": "Liberation Sans", "fontSize": 11, "color": "#4a4a4a", "align": "left", "baseline": "middle"},
"encoding": {
"x": {"field": "d", "type": "temporal", "axis": null},
"y": {"field": "p", "type": "quantitative", "axis": null},
"text": {"field": "t"}
}
},
{
"data": {"values": [
{"d": "2020-12-22T08:00:00Z", "d2": "2021-01-07T02:00:00Z", "p": 90165, "p2": 87355, "s": "r"},
{"d": "2021-01-19T23:30:00Z", "d2": "2021-02-06T13:00:00Z", "p": 90165, "p2": 87355, "s": "b"}]},
"mark": {"type": "rect", "fill": "#fffdf3", "strokeWidth": 1, "cornerRadius": 2},
"encoding": {
"x": {"field": "d", "type": "temporal", "axis": null},
"x2": {"field": "d2"},
"y": {"field": "p", "type": "quantitative", "axis": null},
"y2": {"field": "p2"},
"stroke": {"field": "s", "type": "nominal", "legend": null, "scale": {"domain": ["r", "b"], "range": ["#ef5350", "#5b8fd9"]}}
}
},
{
"data": {"values": [
{"d": "2020-12-30T05:00:00Z", "p": 88760, "t": "37830.5", "s": "r"},
{"d": "2021-01-28T18:00:00Z", "p": 88760, "t": "37831.0", "s": "b"},
{"d": "2021-01-11T13:30:00Z", "p": 88760, "t": "0.5", "s": "g"}]},
"mark": {"type": "text", "font": "Liberation Sans", "fontSize": 11, "align": "center", "baseline": "middle"},
"encoding": {
"x": {"field": "d", "type": "temporal", "axis": null},
"y": {"field": "p", "type": "quantitative", "axis": null},
"text": {"field": "t"},
"color": {"field": "s", "type": "nominal", "legend": null, "scale": {"domain": ["r", "b", "g"], "range": ["#ef5350", "#4f86d6", "#8a8a8a"]}}
}
},
{
"data": {"values": [{"d": "2022-02-23T19:00:00Z", "p": 92810, "t": "USD ▾"}]},
"mark": {"type": "text", "font": "Liberation Sans", "fontSize": 9, "color": "#a35a66", "align": "center", "baseline": "middle"},
"encoding": {
"x": {"field": "d", "type": "temporal", "axis": null},
"y": {"field": "p", "type": "quantitative", "axis": null},
"text": {"field": "t"}
}
},
{
"data": {"values": [{"d": "2022-02-14T07:00:00Z", "d2": "2022-03-04T14:00:00Z", "p": 38926, "p2": 36281}]},
"mark": {"type": "rect", "color": "#131313", "opacity": 1},
"encoding": {
"x": {"field": "d", "type": "temporal", "axis": null},
"x2": {"field": "d2"},
"y": {"field": "p", "type": "quantitative", "axis": null},
"y2": {"field": "p2"}
}
},
{
"data": {"values": [{"d": "2022-02-23T09:00:00Z", "p": 37603, "t": "11:43:35"}]},
"mark": {"type": "text", "font": "Liberation Sans", "fontWeight": "bold", "fontSize": 10.5, "color": "#ffffff", "align": "center", "baseline": "middle"},
"encoding": {
"x": {"field": "d", "type": "temporal", "axis": null},
"y": {"field": "p", "type": "quantitative", "axis": null},
"text": {"field": "t"}
}
}
]
},
{
"width": 1200,
"height": 90,
"view": {"fill": "#133e5a", "stroke": null},
"data": {"values": [{"v": "V", "brand": "TraderViet", "slogan": "Cộng đồng Trader Việt Nam"}]},
"layer": [
{
"mark": {"type": "rect", "filled": false, "color": "#ffffff", "strokeWidth": 3},
"encoding": {
"x": {"datum": 3.4, "type": "quantitative", "axis": null, "scale": {"domain": [0, 100], "nice": false, "zero": false}},
"x2": {"datum": 8.55},
"y": {"datum": 88.9, "type": "quantitative", "axis": null, "scale": {"domain": [0, 100], "nice": false, "zero": false}},
"y2": {"datum": 17.8}
}
},
{
"mark": {"type": "text", "font": "Liberation Serif", "fontWeight": "bold", "fontSize": 78, "color": "#ffffff", "align": "center", "baseline": "alphabetic"},
"encoding": {
"x": {"datum": 5.96, "type": "quantitative", "axis": null},
"y": {"datum": 22.5, "type": "quantitative", "axis": null},
"text": {"field": "v"}
}
},
{
"mark": {"type": "text", "font": "Liberation Serif", "fontWeight": "bold", "fontSize": 58, "color": "#ffffff", "align": "left", "baseline": "alphabetic"},
"encoding": {
"x": {"datum": 8.83, "type": "quantitative", "axis": null},
"y": {"datum": 30.0, "type": "quantitative", "axis": null},
"text": {"field": "brand"}
}
},
{
"mark": {"type": "text", "font": "Roboto", "fontWeight": "bold", "fontSize": 39.5, "color": "#ffffff", "align": "right", "baseline": "alphabetic"},
"encoding": {
"x": {"datum": 97.25, "type": "quantitative", "axis": null},
"y": {"datum": 36.7, "type": "quantitative", "axis": null},
"text": {"field": "slogan"}
}
}
]
}
]
}
